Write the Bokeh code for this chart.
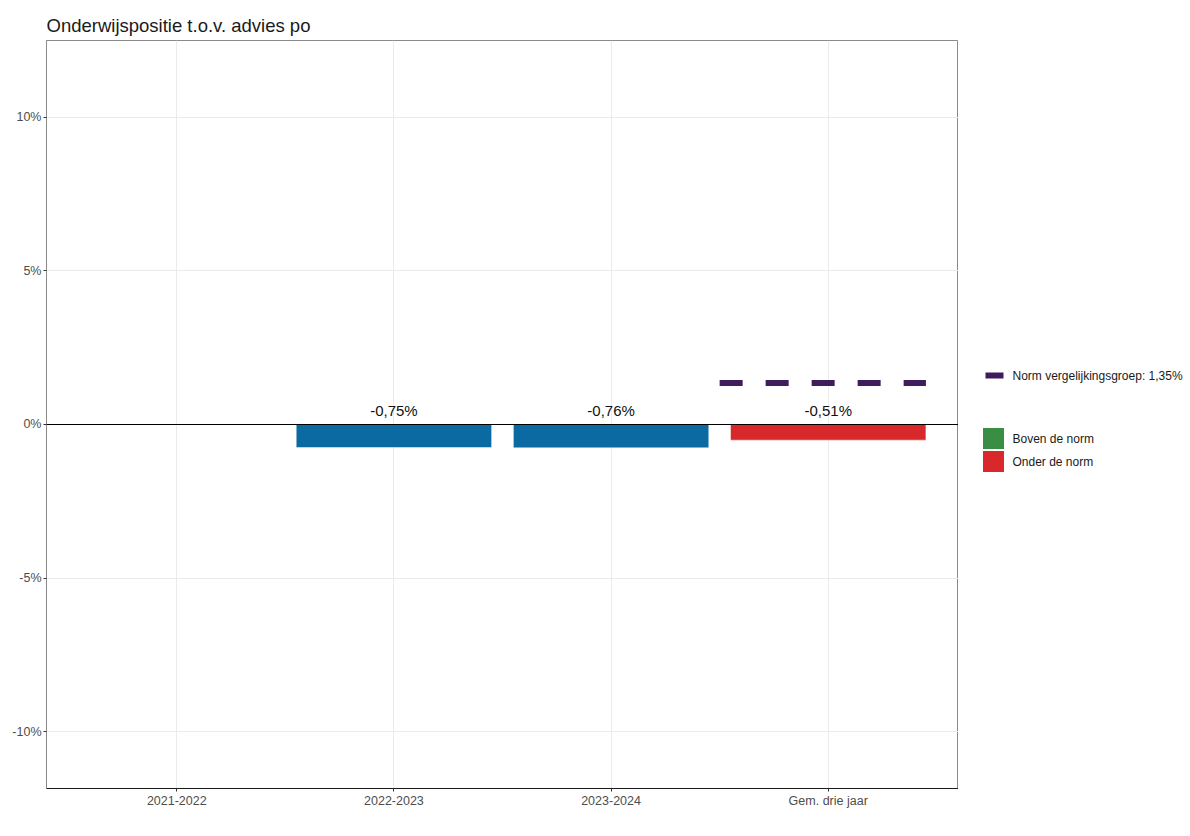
from bokeh.plotting import figure
from bokeh.layouts import row
from bokeh.models import ColumnDataSource, Range1d, FixedTicker, Span
from bokeh.core.properties import value
from bokeh.embed import file_html
from bokeh.resources import INLINE

# --- data -------------------------------------------------------------
categories = ["2021-2022", "2022-2023", "2023-2024", "Gem. drie jaar"]
positions = [1, 2, 3, 4]
values = [None, -0.75, -0.76, -0.51]          # percent
labels = ["", "-0,75%", "-0,76%", "-0,51%"]
bar_colors = ["#0a6aa1", "#0a6aa1", "#0a6aa1", "#d8282b"]
norm_value = 1.35
norm_label = "Norm vergelijkingsgroep: 1,35%"
legend_labels = ["Boven de norm", "Onder de norm"]
legend_colors = ["#3a8e44", "#d8282b"]
y_ticks = [-10, -5, 0, 5, 10]

FONT = "Liberation Sans"
W_MAIN, W_LEG, H = 958, 232, 836
TOP, BOTTOM = 40, 48

# --- main panel -------------------------------------------------------
p = figure(width=W_MAIN, height=H, output_backend="svg", toolbar_location=None,
           x_range=Range1d(0.4, 4.6), y_range=Range1d(-11.84, 12.49),
           min_border_left=46, min_border_right=0, min_border_top=TOP,
           min_border_bottom=BOTTOM,
           title="Onderwijspositie t.o.v. advies po")
p.title.text_font = FONT
p.title.text_font_size = "18.5px"
p.title.text_font_style = "normal"
p.title.text_color = "#1a1a1a"
p.title.offset = 0
p.title.standoff = 10

p.background_fill_color = "white"
p.border_fill_color = "white"
p.outline_line_color = "#8a8a8a"
p.outline_line_width = 1

p.xgrid.grid_line_color = "#ebebeb"
p.ygrid.grid_line_color = "#ebebeb"
p.xgrid.ticker = FixedTicker(ticks=positions)
p.ygrid.ticker = FixedTicker(ticks=y_ticks)

p.xaxis.ticker = FixedTicker(ticks=positions)
p.xaxis.major_label_overrides = {pos: c for pos, c in zip(positions, categories)}
p.yaxis.ticker = FixedTicker(ticks=y_ticks)
p.yaxis.major_label_overrides = {t: f"{t}%" for t in y_ticks}
for ax in (p.xaxis[0], p.yaxis[0]):
    ax.major_label_text_font = FONT
    ax.major_label_text_font_size = "12.5px"
    ax.major_label_text_color = "#4d4d4d"
    ax.major_tick_line_color = "#333333"
    ax.major_tick_in = 0
    ax.major_tick_out = 3
    ax.minor_tick_line_color = None
    ax.major_label_standoff = 2
p.xaxis.axis_line_color = "#1a1a1a"
p.yaxis.axis_line_color = "#8a8a8a"

bars = ColumnDataSource(dict(
    x=[x for x, v in zip(positions, values) if v is not None],
    top=[v for v in values if v is not None],
    color=[c for c, v in zip(bar_colors, values) if v is not None],
    label=[l for l, v in zip(labels, values) if v is not None],
))
p.vbar(x="x", top="top", bottom=0, width=0.9, fill_color="color",
       line_color="white", line_width=0.5, source=bars)

# zero line
p.add_layout(Span(location=0, dimension="width", line_color="black",
                  line_width=1.2))

# value labels just above the zero line
p.text(x="x", y=0, text="label", source=bars, text_font=value(FONT),
       text_font_size="15px", text_color="#111111", text_align="center",
       text_baseline="bottom", y_offset=-5)

# norm of the comparison group over the three-year average
p.segment(x0=[positions[-1] - 0.5], x1=[positions[-1] + 0.45],
          y0=[norm_value], y1=[norm_value], line_color="#3f1d5c",
          line_width=6, line_dash="23 23")

# --- legend panel (frame aligned with the main panel's frame) -----------
leg = figure(width=W_LEG, height=H, output_backend="svg", toolbar_location=None,
             x_range=Range1d(0, W_LEG), y_range=Range1d(H - BOTTOM, TOP),
             min_border=0)
leg.axis.visible = False
leg.grid.visible = False
leg.outline_line_color = None
leg.background_fill_color = "white"
leg.border_fill_color = "white"

leg.segment(x0=[27], x1=[45], y0=[375], y1=[375], line_color="#3f1d5c",
            line_width=6)
leg.text(x=[54], y=[375], text=[norm_label], text_font=value(FONT),
         text_font_size="12px", text_color="#1a1a1a", text_baseline="middle")
leg.rect(x=[35, 35], y=[438, 461], width=22, height=22,
         fill_color=legend_colors, line_color="white")
leg.text(x=[54, 54], y=[438, 461], text=legend_labels, text_font=value(FONT),
         text_font_size="12px", text_color="#1a1a1a", text_baseline="middle")

layout = row(p, leg)
open("out.html", "w").write(file_html(layout, INLINE))
